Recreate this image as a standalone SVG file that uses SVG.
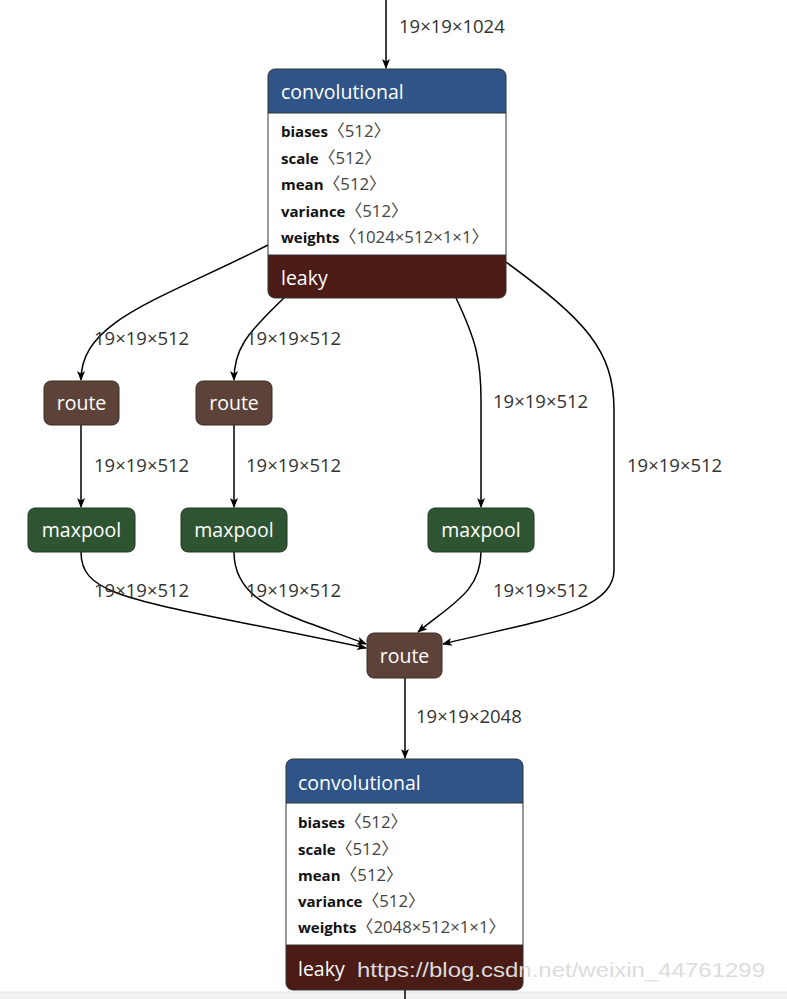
<svg xmlns="http://www.w3.org/2000/svg" width="787" height="999" viewBox="0 0 787 999">
<style>
.lbl{font-family:"Open Sans","Noto Sans",sans-serif;font-size:18.5px;fill:#333}
.hdr{font-family:"Open Sans","Noto Sans",sans-serif;font-size:19.5px;fill:#fff}
.nm{font-family:"Open Sans","Noto Sans",sans-serif;font-size:15px;font-weight:bold;fill:#111}
.val{font-family:"Open Sans","Noto Sans CJK SC",sans-serif;font-size:16.8px;font-weight:normal;fill:#444}
.edge{fill:none;stroke:#000;stroke-width:1.5}
.blue{fill:#2f5487}
.red{fill:#4b1b16}
.route{fill:#5d4239;stroke:#3a2a24;stroke-width:1}
.pool{fill:#2f5432;stroke:#1f3a22;stroke-width:1}
.frame{fill:none;stroke:#333;stroke-width:1}
</style>
<defs>
<marker id="arr" viewBox="0 0 10 10" refX="9" refY="5" markerWidth="10" markerHeight="10" markerUnits="userSpaceOnUse" orient="auto">
<path d="M0,1 L10,5 L0,9 L2.5,5 Z" fill="#000"/>
</marker>
<clipPath id="c1"><rect x="268" y="69" width="238" height="229" rx="7"/></clipPath>
<clipPath id="c2"><rect x="286" y="759" width="237" height="231" rx="7"/></clipPath>
</defs>
<rect width="787" height="999" fill="#fff"/>
<rect x="0" y="992" width="787" height="7" fill="#f2f2f2"/>
<line x1="0" y1="992" x2="787" y2="992" stroke="#e2e2e2"/>

<g id="edges">
<path class="edge" d="M386,0 L386,68" marker-end="url(#arr)"/>
<path class="edge" d="M268,245 C160,300 81,320 81,380" marker-end="url(#arr)"/>
<path class="edge" d="M285,297 C245,335 234,350 234,380" marker-end="url(#arr)"/>
<path class="edge" d="M456,298 C476,340 481,360 481,400 L481,507" marker-end="url(#arr)"/>
<path class="edge" d="M506,262 C585,320 614,350 614,410 L614,570 C614,612 540,620 443,644" marker-end="url(#arr)"/>
<path class="edge" d="M81,425 L81,507" marker-end="url(#arr)"/>
<path class="edge" d="M234,425 L234,507" marker-end="url(#arr)"/>
<path class="edge" d="M81,552 C81,600 140,600 366,648" marker-end="url(#arr)"/>
<path class="edge" d="M234,552 C234,605 290,615 366,644" marker-end="url(#arr)"/>
<path class="edge" d="M481,552 C481,592 450,605 418,632" marker-end="url(#arr)"/>
<path class="edge" d="M405,678 L405,758" marker-end="url(#arr)"/>
<path class="edge" d="M405,990 L405,999"/>
<text class="lbl" x="399" y="33">19×19×1024</text>
<text class="lbl" x="94" y="345">19×19×512</text>
<text class="lbl" x="246" y="345">19×19×512</text>
<text class="lbl" x="493" y="408">19×19×512</text>
<text class="lbl" x="627" y="472">19×19×512</text>
<text class="lbl" x="94" y="472">19×19×512</text>
<text class="lbl" x="246" y="472">19×19×512</text>
<text class="lbl" x="94" y="597">19×19×512</text>
<text class="lbl" x="246" y="597">19×19×512</text>
<text class="lbl" x="493" y="597">19×19×512</text>
<text class="lbl" x="416" y="723">19×19×2048</text>
</g>

<g id="conv1">
<g clip-path="url(#c1)">
<rect x="268" y="69" width="238" height="229" fill="#fff"/>
<rect class="blue" x="268" y="69" width="238" height="44"/>
<rect class="red" x="268" y="255" width="238" height="43"/>
<line x1="268" y1="113" x2="506" y2="113" stroke="#333"/>
<line x1="268" y1="255" x2="506" y2="255" stroke="#333"/>
</g>
<rect class="frame" x="268" y="69" width="238" height="229" rx="7"/>
<text class="hdr" x="281" y="99">convolutional</text>
<text class="nm" x="281" y="137">biases<tspan class="val">〈512〉</tspan></text>
<text class="nm" x="281" y="164">scale<tspan class="val">〈512〉</tspan></text>
<text class="nm" x="281" y="190">mean<tspan class="val">〈512〉</tspan></text>
<text class="nm" x="281" y="217">variance<tspan class="val">〈512〉</tspan></text>
<text class="nm" x="281" y="243">weights<tspan class="val">〈1024×512×1×1〉</tspan></text>
<text class="hdr" x="281" y="285">leaky</text>
</g>

<g id="route1">
<rect class="route" x="44" y="381" width="75" height="44" rx="7"/>
<text class="hdr" x="81.5" y="410" text-anchor="middle">route</text>
</g>
<g id="route2">
<rect class="route" x="196" y="381" width="76" height="44" rx="7"/>
<text class="hdr" x="234" y="410" text-anchor="middle">route</text>
</g>
<g id="maxpool1">
<rect class="pool" x="28" y="508" width="107" height="44" rx="7"/>
<text class="hdr" x="81.5" y="537" text-anchor="middle">maxpool</text>
</g>
<g id="maxpool2">
<rect class="pool" x="181" y="508" width="106" height="44" rx="7"/>
<text class="hdr" x="234" y="537" text-anchor="middle">maxpool</text>
</g>
<g id="maxpool3">
<rect class="pool" x="428" y="508" width="106" height="44" rx="7"/>
<text class="hdr" x="481" y="537" text-anchor="middle">maxpool</text>
</g>
<g id="route3">
<rect class="route" x="367" y="633" width="75" height="45" rx="7"/>
<text class="hdr" x="404.5" y="663" text-anchor="middle">route</text>
</g>

<g id="conv2">
<g clip-path="url(#c2)">
<rect x="286" y="759" width="237" height="231" fill="#fff"/>
<rect class="blue" x="286" y="759" width="237" height="44"/>
<rect class="red" x="286" y="945" width="237" height="45"/>
<line x1="286" y1="803" x2="523" y2="803" stroke="#333"/>
<line x1="286" y1="945" x2="523" y2="945" stroke="#333"/>
</g>
<rect class="frame" x="286" y="759" width="237" height="231" rx="7"/>
<text class="hdr" x="298" y="790">convolutional</text>
<text class="nm" x="298" y="828">biases<tspan class="val">〈512〉</tspan></text>
<text class="nm" x="298" y="855">scale<tspan class="val">〈512〉</tspan></text>
<text class="nm" x="298" y="881">mean<tspan class="val">〈512〉</tspan></text>
<text class="nm" x="298" y="907">variance<tspan class="val">〈512〉</tspan></text>
<text class="nm" x="298" y="933">weights<tspan class="val">〈2048×512×1×1〉</tspan></text>
<text class="hdr" x="298" y="976">leaky</text>
</g>

<text x="357" y="977" font-family="Liberation Sans, Arial, sans-serif" font-size="21" fill="#dcdcdc" textLength="408" lengthAdjust="spacingAndGlyphs">https://blog.csdn.net/weixin_44761299</text>
</svg>
